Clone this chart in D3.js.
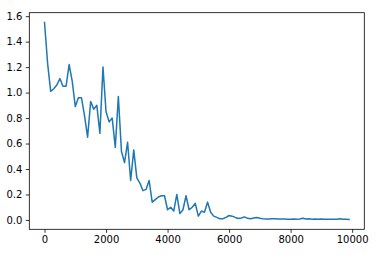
<!DOCTYPE html>
<html>
<head>
<meta charset="utf-8">
<script src="https://cdn.jsdelivr.net/npm/d3@7"></script>
<style>
  body { margin: 0; background: #fff; }
  .tick text { font-family: "DejaVu Sans", sans-serif; font-size: 10px; fill: #000; }
  .tick line { stroke: #000; stroke-width: 0.8; }
</style>
</head>
<body>
<div class="chart"></div>
<script>
// training steps (x) and loss values (y)
var steps = [
  0, 100, 200, 300, 400, 500, 600, 700, 800, 900,
  1000, 1100, 1200, 1300, 1400, 1500, 1600, 1700, 1800, 1900,
  2000, 2100, 2200, 2300, 2400, 2500, 2600, 2700, 2800, 2900,
  3000, 3100, 3200, 3300, 3400, 3500, 3600, 3700, 3800, 3900,
  4000, 4100, 4200, 4300, 4400, 4500, 4600, 4700, 4800, 4900,
  5000, 5100, 5200, 5300, 5400, 5500, 5600, 5700, 5800, 5900,
  6000, 6100, 6200, 6300, 6400, 6500, 6600, 6700, 6800, 6900,
  7000, 7100, 7200, 7300, 7400, 7500, 7600, 7700, 7800, 7900,
  8000, 8100, 8200, 8300, 8400, 8500, 8600, 8700, 8800, 8900,
  9000, 9100, 9200, 9300, 9400, 9500, 9600, 9700, 9800, 9900
];
var loss = [
  1.55, 1.23, 1.01, 1.03, 1.06, 1.11, 1.05, 1.05, 1.22, 1.09,
  0.89, 0.96, 0.96, 0.82, 0.65, 0.93, 0.87, 0.90, 0.68, 1.20,
  0.85, 0.77, 0.80, 0.57, 0.97, 0.54, 0.45, 0.61, 0.31, 0.55,
  0.33, 0.29, 0.23, 0.24, 0.31, 0.14, 0.16, 0.18, 0.19, 0.19,
  0.08, 0.10, 0.07, 0.20, 0.05, 0.08, 0.19, 0.08, 0.10, 0.13,
  0.03, 0.07, 0.06, 0.14, 0.06, 0.03, 0.02, 0.01, 0.01, 0.02,
  0.035, 0.03, 0.02, 0.012, 0.015, 0.024, 0.013, 0.01, 0.016, 0.02,
  0.013, 0.01, 0.008, 0.008, 0.009, 0.01, 0.008, 0.007, 0.007, 0.006,
  0.006, 0.007, 0.006, 0.008, 0.014, 0.008, 0.01, 0.006, 0.007, 0.006,
  0.007, 0.006, 0.006, 0.005, 0.005, 0.005, 0.009, 0.006, 0.005, 0.004
];
var xTicks = [0, 2000, 4000, 6000, 8000, 10000];
var yTicks = [0.0, 0.2, 0.4, 0.6, 0.8, 1.0, 1.2, 1.4, 1.6];

var svgWidth = 382;
var svgHeight = 260;
var margin = { top: 12.7, right: 17.7, bottom: 30.7, left: 29.3 };
var width = svgWidth - margin.left - margin.right;
var height = svgHeight - margin.top - margin.bottom;

var svg = d3.select(".chart")
  .append("svg")
  .attr("width", svgWidth)
  .attr("height", svgHeight)
  .append("g")
  .attr("transform", "translate(" + margin.left + "," + margin.top + ")");

// matplotlib style 5% padding around the data
function padded(ext) {
  var pad = (ext[1] - ext[0]) * 0.05;
  return [ext[0] - pad, ext[1] + pad];
}

var xScale = d3.scaleLinear()
  .domain(padded(d3.extent(steps)))
  .range([0, width]);
var yScale = d3.scaleLinear()
  .domain(padded(d3.extent(loss)))
  .range([height, 0]);

var bottomAxis = d3.axisBottom(xScale)
  .tickValues(xTicks)
  .tickFormat(d3.format("d"))
  .tickSizeInner(3.5)
  .tickSizeOuter(0)
  .tickPadding(3.5);
var leftAxis = d3.axisLeft(yScale)
  .tickValues(yTicks)
  .tickFormat(d3.format(".1f"))
  .tickSizeInner(3.5)
  .tickSizeOuter(0)
  .tickPadding(3.5);

svg.append("g")
  .attr("transform", "translate(0," + height + ")")
  .call(bottomAxis)
  .call(function(g) { g.select(".domain").remove(); });

svg.append("g")
  .call(leftAxis)
  .call(function(g) { g.select(".domain").remove(); });

// the line
var line = d3.line()
  .x(function(d, i) { return xScale(steps[i]); })
  .y(function(d) { return yScale(d); });

svg.append("path")
  .datum(loss)
  .attr("fill", "none")
  .attr("stroke", "#1f77b4")
  .attr("stroke-width", 1.5)
  .attr("stroke-linejoin", "round")
  .attr("stroke-linecap", "square")
  .attr("d", line);

// frame
svg.append("rect")
  .attr("width", width)
  .attr("height", height)
  .attr("fill", "none")
  .attr("stroke", "#000")
  .attr("stroke-width", 0.8);
</script>
</body>
</html>
